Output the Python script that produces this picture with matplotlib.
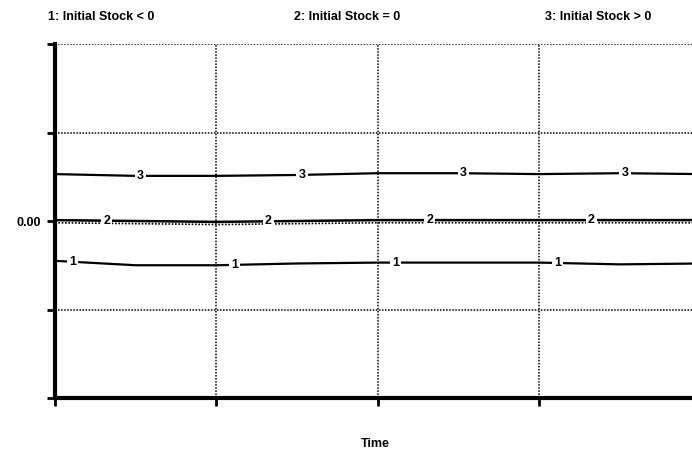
import matplotlib.pyplot as plt
import numpy as np

# Time axis and the three runs
time = [0.0, 0.5, 1.0, 1.5, 2.0, 2.5, 3.0, 3.5, 4.0]
run1 = [-0.45, -0.50, -0.50, -0.48, -0.47, -0.47, -0.47, -0.49, -0.48]
run2 = [0.01, 0.0, -0.01, 0.0, 0.01, 0.01, 0.01, 0.01, 0.01]
run3 = [0.53, 0.51, 0.51, 0.52, 0.54, 0.54, 0.53, 0.54, 0.53]

run_titles = ['1: Initial Stock < 0', '2: Initial Stock = 0', '3: Initial Stock > 0']
label_pos = {'1': [0.11, 1.11, 2.11, 3.11],
             '2': [0.32, 1.32, 2.32, 3.32],
             '3': [0.53, 1.53, 2.53, 3.53]}

plt.rcParams['font.family'] = ['Liberation Sans Narrow', 'Liberation Sans', 'DejaVu Sans']

fig = plt.figure(figsize=(6.92, 4.5), dpi=100)
ax = fig.add_axes([55 / 692, 52 / 450, 646 / 692, 354 / 450])
ax.set_xlim(0, 4)
ax.set_ylim(-2, 2)

# dotted grid
for y in [1, -1, 2]:
    ax.axhline(y, color='black', lw=1.1, ls=(0, (1, 1)), zorder=1)
for x in [1, 2, 3]:
    ax.axvline(x, color='black', lw=1.1, ls=(0, (1, 1)), zorder=1)

# the three runs
ax.plot(time, run1, color='black', lw=1.6, zorder=3)
ax.plot(time, run3, color='black', lw=1.6, zorder=3)
ax.plot(time, run2, color='black', lw=1.8, zorder=3)
ax.plot(time, [v - 0.03 for v in run2], color='black', lw=1.2,
        ls=(0, (1, 1)), zorder=3)

# numbered labels on each run
for name, series in [('1', run1), ('2', run2), ('3', run3)]:
    for x in label_pos[name]:
        ax.text(x, np.interp(x, time, series), name, ha='center', va='center',
                fontsize=9, fontweight='bold', zorder=4,
                bbox=dict(facecolor='white', edgecolor='none', pad=1.5))

# axes styling
for side in ['top', 'right']:
    ax.spines[side].set_visible(False)
ax.spines['left'].set_linewidth(3)
ax.spines['bottom'].set_linewidth(3)
ax.set_yticks([-2, -1, 0, 1, 2])
ax.set_yticklabels(['', '', '0.00', '', ''])
ax.set_xticks([0, 1, 2, 3, 4])
ax.set_xticklabels([])
ax.tick_params(axis='both', direction='out', length=6, width=2)
ax.tick_params(axis='y', labelsize=9, pad=4)
for lab in ax.get_yticklabels():
    lab.set_fontweight('bold')

ax.set_xlabel('Time', fontsize=9, fontweight='bold')
ax.xaxis.set_label_coords((375 - 55) / 646, -40 / 354)

for title, xp in zip(run_titles, [48, 294, 545]):
    fig.text(xp / 692, 1 - 17 / 450, title, ha='left', va='center',
             fontsize=9, fontweight='bold')

fig.savefig('out.png', dpi=100)
